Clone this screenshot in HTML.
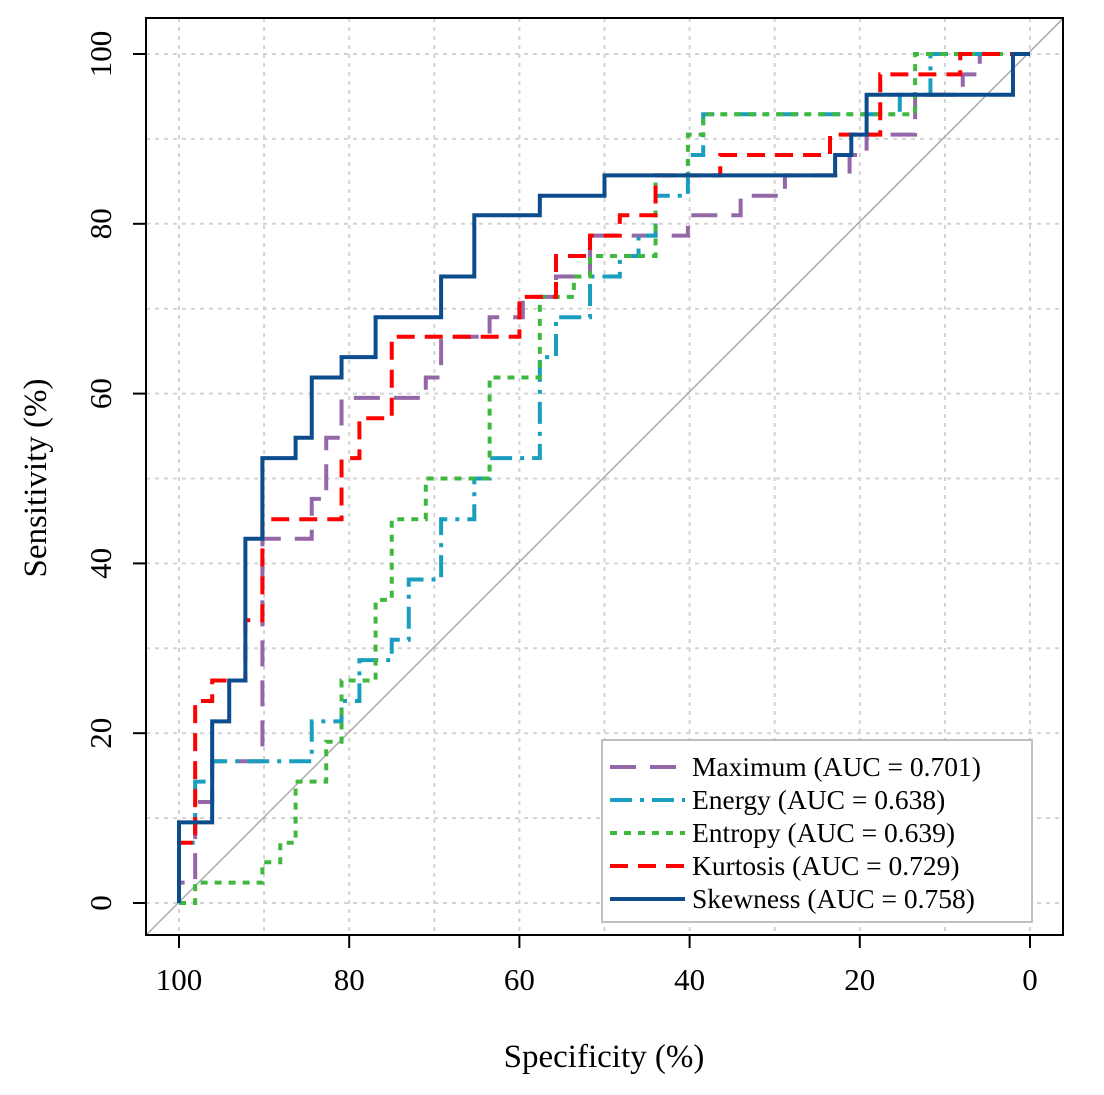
<!DOCTYPE html>
<html><head><meta charset="utf-8"><style>
body{margin:0;background:#fff}
svg text{font-family:"Liberation Serif",serif;fill:#000}
</style></head><body>
<svg id="c" width="1104" height="1090" xmlns="http://www.w3.org/2000/svg"></svg>
<script>
const xTicks=[100,80,60,40,20,0];
const yTicks=[0,20,40,60,80,100];
const seriesNames=["Maximum (AUC = 0.701)","Energy (AUC = 0.638)","Entropy (AUC = 0.639)","Kurtosis (AUC = 0.729)","Skewness (AUC = 0.758)"];
const maxSpec=[100,100,98.1,96.1,90.2,84.4,82.7,80.9,71,69.2,63.5,59.6,55.7,51.7,40.2,34,28.8,21.2,19.2,13.5,7.9,5.9,0];
const maxSens=[0,2.4,11.9,16.7,42.9,47.6,54.8,59.5,61.9,66.7,69,71.4,73.8,78.6,81,83.3,85.7,88.1,90.5,95.2,97.6,100,100];
const engSpec=[100,100,98.1,96.1,84.4,80.9,78.8,75,73,69.2,65.3,63.5,57.6,55.7,51.7,48.2,46,44,40.2,38.4,15.3,11.7,0];
const engSens=[0,7.1,14.3,16.7,21.4,23.8,28.6,31,38.1,45.2,50,52.4,64.3,69,73.8,76.2,78.6,83.3,88.1,92.9,95.2,100,100];
const entSpec=[100,98.1,90.2,88.1,86.3,82.7,80.9,76.9,75,71,63.5,57.6,53.6,51.7,44,40.2,38.4,13.5,0];
const entSens=[0,2.4,4.8,7.1,14.3,19,26.2,35.7,45.2,50,61.9,71.4,73.8,76.2,85.7,90.5,92.9,100,100];
const kurSpec=[100,100,98.1,96.1,94.1,92.2,90.2,80.9,78.8,75,60,55.7,51.7,48.2,44,36.4,23.5,17.6,8.2,0];
const kurSens=[0,7.1,23.8,26.2,26.2,33.3,45.2,52.4,57.1,66.7,71.4,76.2,78.6,81,85.7,88.1,90.5,97.6,100,100];
const skeSpec=[100,100,96.1,94.1,92.2,90.2,86.3,84.4,80.9,76.9,69.2,65.3,57.6,50,22.9,21,19.2,2,0];
const skeSens=[0,9.5,21.4,26.2,42.9,52.4,54.8,61.9,64.3,69,73.8,81,83.3,85.7,88.1,90.5,95.2,100,100];

const X=v=>1030-(v)*8.51, Y=v=>903-v*8.49;
const svg=document.getElementById('c'), NS="http://www.w3.org/2000/svg";
function mk(t,a,p){const e=document.createElementNS(NS,t);for(const k in a)e.setAttribute(k,a[k]);(p||svg).appendChild(e);return e;}
const grid=mk('g',{});


for(let v=0;v<=100;v+=10){
 mk('line',{x1:X(v),x2:X(v),y1:18,y2:935,stroke:'#d3d3d3','stroke-width':2,'stroke-dasharray':'4,5'},grid);
 mk('line',{x1:146,x2:1063,y1:Y(v),y2:Y(v),stroke:'#d3d3d3','stroke-width':2,'stroke-dasharray':'4,5'},grid);
}
const d=mk('line',{x1:X(103.9),y1:Y(-3.8),x2:X(-3.9),y2:Y(104.2),stroke:'#aaa','stroke-width':1.5});


const box=mk('rect',{x:146,y:18,width:917,height:917,fill:'none',stroke:'#000','stroke-width':2});


const xa=mk('g',{});
xTicks.forEach(v=>{mk('line',{x1:X(v),x2:X(v),y1:935,y2:948,stroke:'#000','stroke-width':2},xa);
 const t=mk('text',{x:X(v),y:990,'text-anchor':'middle','font-size':31},xa);t.textContent=v;
 });
const ya=mk('g',{});
yTicks.forEach(v=>{mk('line',{x1:133,x2:146,y1:Y(v),y2:Y(v),stroke:'#000','stroke-width':2},ya);
 const t=mk('text',{x:111,y:Y(v),'text-anchor':'middle','font-size':31,transform:`rotate(-90 111 ${Y(v)})`},ya);t.textContent=v;
 });
const xt=mk('text',{x:604,y:1067,'text-anchor':'middle','font-size':33});xt.textContent='Specificity (%)';

const yt=mk('text',{x:46,y:478,'text-anchor':'middle','font-size':33,transform:'rotate(-90 46 478)'});yt.textContent='Sensitivity (%)';

const styles=[
 {c:'#9467a8',da:'26,14',w:4,sp:maxSpec,se:maxSens,n:'maximum-curve'},
 {c:'#1a9ec0',da:'22,8,4,8',w:4,sp:engSpec,se:engSens,n:'energy-curve'},
 {c:'#40b840',da:'7,7',w:4,sp:entSpec,se:entSens,n:'entropy-curve'},
 {c:'#ff0000',da:'18,10',w:4,sp:kurSpec,se:kurSens,n:'kurtosis-curve'},
 {c:'#0b4c8c',da:'',w:4,sp:skeSpec,se:skeSens,n:'skewness-curve'}];
styles.forEach(s=>{
 let p=`M${X(s.sp[0])},${Y(s.se[0])}`;
 for(let i=1;i<s.sp.length;i++){p+=` H${X(s.sp[i])} V${Y(s.se[i])}`;}
 const e=mk('path',{d:p,fill:'none',stroke:s.c,'stroke-width':s.w,'stroke-dasharray':s.da});
 
 
});
const lg=mk('g',{});
mk('rect',{x:602,y:740,width:430,height:182,fill:'#fff',stroke:'#aaa','stroke-width':1.5},lg);
styles.forEach((s,i)=>{const y=767+i*33;
 const en=mk('g',{},lg);
 mk('line',{x1:610,x2:685,y1:y,y2:y,stroke:s.c,'stroke-width':4,'stroke-dasharray':s.da},en);
 const t=mk('text',{x:692,y:y+9,'font-size':27.5},en);t.textContent=seriesNames[i];});
</script>
</body></html>
